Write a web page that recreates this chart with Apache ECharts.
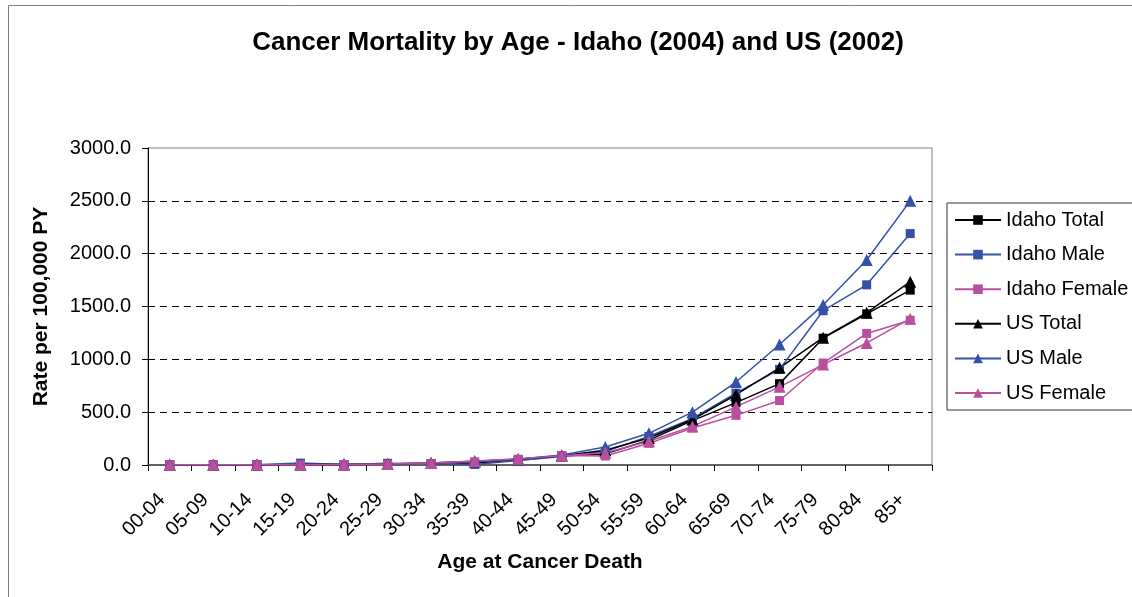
<!DOCTYPE html>
<html>
<head>
<meta charset="utf-8">
<script src="https://cdn.jsdelivr.net/npm/echarts@6/dist/echarts.min.js"></script>
<style>
  html, body { margin: 0; padding: 0; background: #fff; }
  #main { width: 1132px; height: 597px; }
</style>
</head>
<body>
<div id="main"></div>
<script>
var ageGroups = ['00-04', '05-09', '10-14', '15-19', '20-24', '25-29', '30-34', '35-39', '40-44',
  '45-49', '50-54', '55-59', '60-64', '65-69', '70-74', '75-79', '80-84', '85+'];

var idahoTotal = [2.5, 2.0, 2.4, 4.5, 4.0, 8.0, 12.0, 18.0, 48.0, 85.0, 105.0, 235.0, 420.0, 590.0, 770.0, 1200.0, 1430.0, 1655.0];
var idahoMale = [2.0, 2.5, 3.0, 18.0, 4.5, 16.0, 11.0, 5.0, 42.0, 80.0, 130.0, 270.0, 440.0, 680.0, 905.0, 1460.0, 1705.0, 2190.0];
var idahoFemale = [3.0, 1.5, 1.8, 3.0, 3.5, 4.0, 13.0, 30.0, 55.0, 90.0, 85.0, 205.0, 350.0, 470.0, 610.0, 965.0, 1245.0, 1370.0];
var usTotal = [2.6, 2.6, 2.5, 3.8, 5.5, 9.0, 19.0, 35.0, 55.0, 88.0, 140.0, 255.0, 430.0, 665.0, 920.0, 1205.0, 1440.0, 1735.0];
var usMale = [2.8, 2.7, 2.6, 4.3, 6.2, 9.5, 18.0, 32.0, 55.0, 95.0, 170.0, 300.0, 500.0, 785.0, 1140.0, 1515.0, 1940.0, 2500.0];
var usFemale = [2.4, 2.4, 2.3, 3.2, 4.6, 8.7, 20.0, 38.0, 58.0, 88.0, 115.0, 225.0, 365.0, 550.0, 740.0, 950.0, 1155.0, 1385.0];

var BLACK = '#000000';
var BLUE = '#3451a6';
var PINK = '#b9509f';
var FONT = 'Arial, "Liberation Sans", sans-serif';

function makeSeries(name, data, color, symbol) {
  return {
    name: name,
    type: 'line',
    data: data,
    symbol: symbol,
    symbolSize: symbol === 'triangle' ? 12 : 9,
    itemStyle: { color: color },
    lineStyle: { color: color, width: 1.5 },
    animation: false
  };
}

var myChart = echarts.init(document.getElementById('main'));
var option = {
  backgroundColor: '#fff',
  title: {
    text: 'Cancer Mortality by Age - Idaho (2004) and US (2002)',
    left: 573,
    top: 25,
    textAlign: 'center',
    textStyle: { fontFamily: FONT, fontSize: 26, fontWeight: 'bold', color: '#000' }
  },
  // 外框
  graphic: [{
    type: 'rect',
    shape: { x: 8.5, y: 5.5, width: 1200, height: 700 },
    style: { fill: 'none', stroke: '#808080', lineWidth: 1 },
    silent: true
  }],
  legend: {
    orient: 'vertical',
    left: 947,
    top: 203,
    padding: [7, 20, 7, 7],
    itemWidth: 46,
    itemHeight: 12,
    itemGap: 14.6,
    borderColor: '#333',
    borderWidth: 1,
    textStyle: { fontFamily: FONT, fontSize: 20, color: '#000', lineHeight: 20 },
    data: ['Idaho Total', 'Idaho Male', 'Idaho Female', 'US Total', 'US Male', 'US Female']
  },
  grid: {
    left: 148,
    right: 200,
    top: 148,
    bottom: 132,
    show: true,
    borderColor: '#808080',
    borderWidth: 1
  },
  xAxis: {
    type: 'category',
    data: ageGroups,
    boundaryGap: true,
    name: 'Age at Cancer Death',
    nameLocation: 'middle',
    nameGap: 87,
    nameTextStyle: { fontFamily: FONT, fontSize: 21, fontWeight: 'bold', color: '#000' },
    axisLine: { lineStyle: { color: '#444', width: 1.5 } },
    axisTick: { show: true, interval: 0, length: 6, lineStyle: { color: '#000' } },
    axisLabel: {
      interval: 0,
      rotate: 45,
      margin: 24,
      padding: [0, 11, 0, 0],
      fontFamily: FONT,
      fontSize: 20,
      color: '#000'
    },
    splitLine: { show: false }
  },
  yAxis: {
    type: 'value',
    min: 0,
    max: 3000,
    interval: 500,
    name: 'Rate per 100,000 PY',
    nameLocation: 'middle',
    nameGap: 96,
    nameTextStyle: { fontFamily: FONT, fontSize: 21, fontWeight: 'bold', color: '#000' },
    axisLine: { show: true, lineStyle: { color: '#000', width: 1 } },
    axisTick: { show: true, length: 6, lineStyle: { color: '#000' } },
    axisLabel: {
      margin: 17,
      fontFamily: FONT,
      fontSize: 20,
      color: '#000',
      formatter: function (v) { return v.toFixed(1); }
    },
    splitLine: {
      show: true,
      showMinLine: false,
      showMaxLine: false,
      lineStyle: { color: '#000', width: 1, type: [7, 5] }
    }
  },
  series: [
    makeSeries('Idaho Total', idahoTotal, BLACK, 'rect'),
    makeSeries('Idaho Male', idahoMale, BLUE, 'rect'),
    makeSeries('Idaho Female', idahoFemale, PINK, 'rect'),
    makeSeries('US Total', usTotal, BLACK, 'triangle'),
    makeSeries('US Male', usMale, BLUE, 'triangle'),
    makeSeries('US Female', usFemale, PINK, 'triangle')
  ]
};
myChart.setOption(option);
</script>
</body>
</html>
